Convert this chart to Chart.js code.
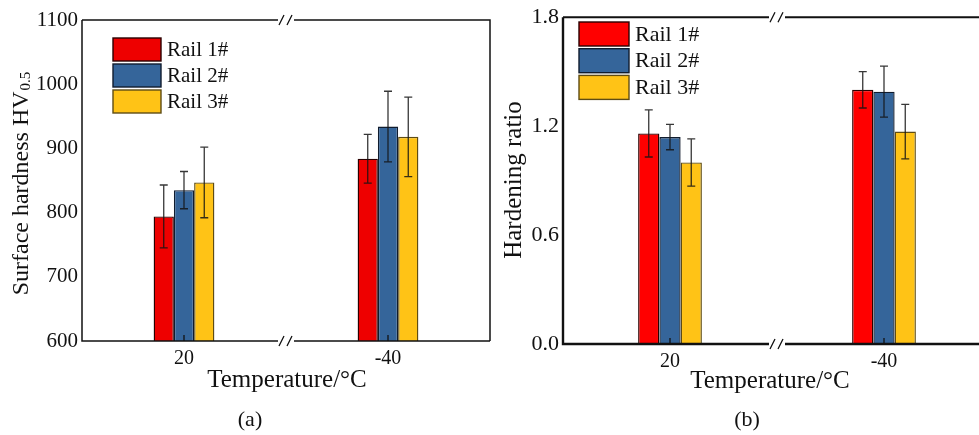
<!DOCTYPE html>
<html>
<head>
<meta charset="utf-8">
<script src="https://cdn.jsdelivr.net/npm/chart.js@4.4.1/dist/chart.umd.min.js"></script>
<style>
  html, body { margin: 0; padding: 0; background: #fff; overflow: hidden; }
  #wrap { position: relative; width: 979px; height: 435px; overflow: hidden; }
  #boxA { position: absolute; left: 0; top: 0; width: 500px; height: 435px; }
  #boxB { position: absolute; left: 490px; top: 0; width: 520px; height: 435px; }
</style>
</head>
<body>
<div id="wrap">
  <div id="boxA"><canvas id="hardness"></canvas></div>
  <div id="boxB"><canvas id="ratio"></canvas></div>
</div>
<script>
// categories and series
var temps = ['20', '-40'];
var railNames = ['Rail 1#', 'Rail 2#', 'Rail 3#'];

// surface hardness HV0.5, mean and deviation
var hardRail1 = [794, 884];
var hardRail2 = [835, 934];
var hardRail3 = [847, 918];
var hardErr1 = [49, 38];
var hardErr2 = [29, 55];
var hardErr3 = [55, 62];
var hardTicks = [600, 700, 800, 900, 1000, 1100];

// hardening ratio, mean and deviation
var ratioRail1 = [1.16, 1.40];
var ratioRail2 = [1.14, 1.39];
var ratioRail3 = [1.00, 1.17];
var ratioErr1 = [0.13, 0.10];
var ratioErr2 = [0.07, 0.14];
var ratioErr3 = [0.13, 0.15];
var ratioTicks = [0, 0.6, 1.2, 1.8];

var FONT = "'Liberation Serif', 'Times New Roman', serif";

// error bars, caps, frame with axis breaks, titles and an inset legend
var panelDecor = {
	id: 'panelDecor',
	afterDatasetsDraw: function (chart, args, opts) {
		var ctx = chart.ctx;
		var yScale = chart.scales.y;
		ctx.save();
		ctx.strokeStyle = 'rgba(20,20,20,0.85)';
		ctx.lineWidth = 1.3;
		chart.data.datasets.forEach(function (ds, i) {
			var meta = chart.getDatasetMeta(i);
			meta.data.forEach(function (el, j) {
				var v = ds.data[j], e = ds.errors[j];
				var yt = yScale.getPixelForValue(v + e);
				var yb = yScale.getPixelForValue(v - e);
				ctx.beginPath();
				ctx.moveTo(el.x, yt); ctx.lineTo(el.x, yb);
				ctx.moveTo(el.x - 4, yt); ctx.lineTo(el.x + 4, yt);
				ctx.moveTo(el.x - 4, yb); ctx.lineTo(el.x + 4, yb);
				ctx.stroke();
			});
		});
		ctx.restore();
	},
	afterDraw: function (chart, args, opts) {
		var ctx = chart.ctx;
		var a = chart.chartArea;
		var xScale = chart.scales.x;
		ctx.save();
		ctx.lineCap = 'butt';
		// frame
		ctx.strokeStyle = '#111';
		ctx.lineWidth = opts.axisWidth;
		ctx.beginPath();
		ctx.moveTo(a.left, a.top); ctx.lineTo(a.left, a.bottom); ctx.lineTo(a.right, a.bottom);
		ctx.stroke();
		ctx.lineWidth = opts.topWidth;
		ctx.beginPath();
		ctx.moveTo(a.left, a.top); ctx.lineTo(a.right, a.top);
		if (opts.rightBorder) ctx.lineTo(a.right, a.bottom);
		ctx.stroke();
		// inward ticks on the category axis
		ctx.lineWidth = 1.3;
		temps.forEach(function (t, i) {
			var x = xScale.getPixelForValue(i);
			ctx.beginPath();
			ctx.moveTo(x, a.bottom); ctx.lineTo(x, a.bottom - 6);
			ctx.stroke();
		});
		// axis breaks
		var bx = (a.left + a.right) / 2;
		[a.top, a.bottom].forEach(function (y) {
			ctx.fillStyle = '#fff';
			ctx.fillRect(bx - 8, y - 3, 16, 6);
			ctx.strokeStyle = '#111';
			ctx.lineWidth = 1.3;
			ctx.beginPath();
			ctx.moveTo(bx - 7, y + 5); ctx.lineTo(bx - 2, y - 5);
			ctx.moveTo(bx + 1, y + 5); ctx.lineTo(bx + 6, y - 5);
			ctx.stroke();
		});
		// legend
		var lg = opts.legend;
		chart.data.datasets.forEach(function (ds, i) {
			var y = lg.y + i * lg.step;
			ctx.fillStyle = ds.backgroundColor;
			ctx.fillRect(lg.x, y, lg.w, lg.h);
			ctx.strokeStyle = ds.borderColor;
			ctx.lineWidth = 1.4;
			ctx.strokeRect(lg.x, y, lg.w, lg.h);
			ctx.fillStyle = '#111';
			ctx.font = lg.size + 'px ' + FONT;
			ctx.textAlign = 'left';
			ctx.textBaseline = 'middle';
			ctx.fillText(ds.label, lg.x + lg.w + 6, y + lg.h / 2 + 1);
		});
		// y title, rotated, with optional subscript
		var yt = opts.yTitle;
		ctx.save();
		ctx.translate(yt.x, yt.y);
		ctx.rotate(-Math.PI / 2);
		ctx.fillStyle = '#111';
		ctx.textBaseline = 'alphabetic';
		ctx.textAlign = 'left';
		ctx.font = yt.size + 'px ' + FONT;
		var w1 = ctx.measureText(yt.text).width;
		var w2 = 0;
		if (yt.sub) {
			ctx.font = Math.round(yt.size * 0.62) + 'px ' + FONT;
			w2 = ctx.measureText(yt.sub).width;
		}
		var x0 = -(w1 + w2) / 2;
		ctx.font = yt.size + 'px ' + FONT;
		ctx.fillText(yt.text, x0, 0);
		if (yt.sub) {
			ctx.font = Math.round(yt.size * 0.62) + 'px ' + FONT;
			ctx.fillText(yt.sub, x0 + w1 + 1, 2);
		}
		ctx.restore();
		// x title and panel label
		ctx.fillStyle = '#111';
		ctx.textAlign = 'center';
		ctx.textBaseline = 'alphabetic';
		ctx.font = opts.xTitle.size + 'px ' + FONT;
		ctx.fillText(opts.xTitle.text, opts.xTitle.x, opts.xTitle.y);
		ctx.font = opts.panel.size + 'px ' + FONT;
		ctx.fillText(opts.panel.text, opts.panel.x, opts.panel.y);
		ctx.restore();
	}
};

function railSets(v1, v2, v3, e1, e2, e3, red, base) {
	var vals = [v1, v2, v3], errs = [e1, e2, e3];
	var fills = [red, '#35659a', '#ffc316'];
	var edges = ['#2a0000', '#101c2e', '#5e4c14'];
	return railNames.map(function (name, i) {
		return {
			label: name,
			data: vals[i],
			errors: errs[i],
			backgroundColor: fills[i],
			borderColor: edges[i],
			borderWidth: 1.4,
			borderSkipped: 'start',
			base: base,
			barPercentage: 1,
			categoryPercentage: 0.298
		};
	});
}

function makeChart(id, cfg) {
	return new Chart(document.getElementById(id).getContext('2d'), {
		type: 'bar',
		data: { labels: temps, datasets: cfg.datasets },
		options: {
			responsive: true,
			maintainAspectRatio: false,
			animation: false,
			layout: { padding: cfg.padding },
			scales: {
				x: {
					grid: { display: false, drawTicks: false },
					border: { display: false },
					ticks: { color: '#111', padding: 6, font: { family: FONT, size: 20 } },
					afterFit: function (scale) { scale.height = cfg.xHeight; }
				},
				y: {
					min: cfg.ticks[0],
					max: cfg.ticks[cfg.ticks.length - 1],
					afterBuildTicks: function (scale) {
						scale.ticks = cfg.ticks.map(function (v) { return { value: v }; });
					},
					grid: { display: false, drawTicks: false },
					border: { display: false },
					ticks: {
						color: '#111', padding: 4,
						font: { family: FONT, size: cfg.tickSize },
						callback: cfg.fmt
					},
					afterFit: function (scale) { scale.width = cfg.yWidth; }
				}
			},
			plugins: {
				legend: { display: false },
				tooltip: { enabled: false },
				panelDecor: cfg.decor
			}
		},
		plugins: [panelDecor]
	});
}

makeChart('hardness', {
	datasets: railSets(hardRail1, hardRail2, hardRail3, hardErr1, hardErr2, hardErr3, '#ee0000', 600),
	ticks: hardTicks,
	tickSize: 21,
	fmt: function (v) { return v; },
	padding: { top: 20, right: 10, left: 0, bottom: 0 },
	yWidth: 82,
	xHeight: 94,
	decor: {
		axisWidth: 1.5, topWidth: 1.5, rightBorder: true,
		legend: { x: 113, y: 38, w: 48, h: 23, step: 26, size: 21 },
		yTitle: { text: 'Surface hardness HV', sub: '0.5', x: 27.5, y: 184, size: 24 },
		xTitle: { text: 'Temperature/\u00b0C', x: 287, y: 387, size: 25 },
		panel: { text: '(a)', x: 250, y: 426, size: 22 }
	}
});

makeChart('ratio', {
	datasets: railSets(ratioRail1, ratioRail2, ratioRail3, ratioErr1, ratioErr2, ratioErr3, '#ff0000', 0),
	ticks: ratioTicks,
	tickSize: 22,
	fmt: function (v) { return Number(v).toFixed(1); },
	padding: { top: 17, right: 19, left: 0, bottom: 0 },
	yWidth: 73,
	xHeight: 91,
	decor: {
		axisWidth: 2.4, topWidth: 2, rightBorder: true,
		legend: { x: 89, y: 22, w: 50, h: 24, step: 26.7, size: 22 },
		yTitle: { text: 'Hardening ratio', sub: '', x: 31, y: 180, size: 25 },
		xTitle: { text: 'Temperature/\u00b0C', x: 280, y: 388, size: 25 },
		panel: { text: '(b)', x: 257, y: 426, size: 22 }
	}
});
</script>
</body>
</html>
